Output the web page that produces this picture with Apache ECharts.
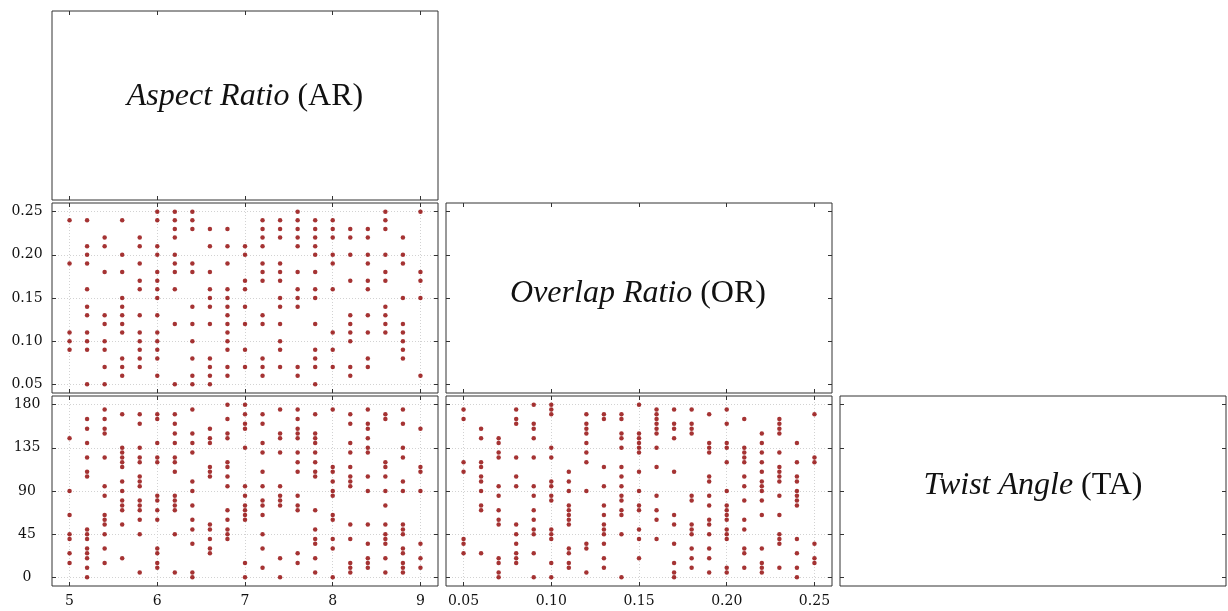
<!DOCTYPE html>
<html>
<head>
<meta charset="utf-8">
<style>
  html, body { margin: 0; padding: 0; background: #fff; }
  #chart { width: 1228px; height: 611px; }
</style>
<script src="https://cdn.jsdelivr.net/npm/echarts@6.0.0/dist/echarts.min.js"></script>
</head>
<body>
<div id="chart"></div>
<script>
// sampled design points, read column by column
const arLevels = [5.0, 5.2, 5.4, 5.6, 5.8, 6.0, 6.2, 6.4, 6.6, 6.8, 7.0, 7.2, 7.4, 7.6, 7.8, 8.0, 8.2, 8.4, 8.6, 8.8, 9.0];
const orLevels = [0.05, 0.06, 0.07, 0.08, 0.09, 0.10, 0.11, 0.12, 0.13, 0.14, 0.15, 0.16, 0.17, 0.18, 0.19, 0.20, 0.21, 0.22, 0.23, 0.24, 0.25];

// OR values at each AR level (AR vs OR panel)
const orAtAr = [
  [0.24, 0.19, 0.11, 0.10, 0.09],
  [0.24, 0.21, 0.20, 0.19, 0.16, 0.14, 0.13, 0.11, 0.10, 0.09, 0.05],
  [0.22, 0.21, 0.18, 0.13, 0.12, 0.10, 0.09, 0.07, 0.05],
  [0.24, 0.20, 0.18, 0.15, 0.14, 0.13, 0.12, 0.11, 0.08, 0.07, 0.06],
  [0.22, 0.21, 0.19, 0.17, 0.16, 0.13, 0.11, 0.10, 0.09, 0.08, 0.07],
  [0.25, 0.24, 0.21, 0.20, 0.18, 0.17, 0.16, 0.15, 0.13, 0.11, 0.10, 0.09, 0.08, 0.06],
  [0.25, 0.24, 0.23, 0.22, 0.20, 0.19, 0.18, 0.16, 0.12, 0.05],
  [0.25, 0.24, 0.23, 0.19, 0.18, 0.14, 0.12, 0.10, 0.08, 0.06, 0.05],
  [0.23, 0.21, 0.18, 0.16, 0.15, 0.14, 0.12, 0.08, 0.07, 0.06, 0.05],
  [0.23, 0.21, 0.19, 0.16, 0.15, 0.14, 0.13, 0.12, 0.11, 0.10, 0.09, 0.07, 0.06],
  [0.21, 0.20, 0.17, 0.16, 0.14, 0.12, 0.09, 0.07],
  [0.24, 0.23, 0.22, 0.21, 0.19, 0.18, 0.17, 0.13, 0.12, 0.08, 0.07, 0.06],
  [0.24, 0.23, 0.22, 0.19, 0.18, 0.17, 0.15, 0.14, 0.12, 0.10, 0.09, 0.07],
  [0.25, 0.24, 0.23, 0.22, 0.21, 0.18, 0.16, 0.15, 0.14, 0.07, 0.06],
  [0.24, 0.23, 0.22, 0.21, 0.20, 0.18, 0.16, 0.15, 0.12, 0.09, 0.08, 0.07, 0.05],
  [0.24, 0.23, 0.22, 0.20, 0.19, 0.16, 0.11, 0.09, 0.07],
  [0.23, 0.22, 0.20, 0.17, 0.13, 0.12, 0.11, 0.10, 0.07, 0.06],
  [0.23, 0.22, 0.20, 0.19, 0.17, 0.16, 0.13, 0.11, 0.08, 0.07],
  [0.25, 0.24, 0.23, 0.20, 0.18, 0.17, 0.14, 0.13, 0.12, 0.11],
  [0.22, 0.20, 0.19, 0.15, 0.12, 0.11, 0.10, 0.09, 0.08],
  [0.25, 0.18, 0.17, 0.15, 0.06]
];

// TA values at each AR level (AR vs TA panel)
const taAtAr = [
  [145, 90, 65, 45, 40, 25, 15],
  [165, 155, 140, 125, 110, 105, 50, 45, 40, 30, 25, 20, 10, 0],
  [175, 165, 155, 150, 125, 95, 85, 65, 60, 55, 45, 30, 15],
  [170, 135, 130, 125, 120, 115, 100, 90, 80, 75, 70, 55, 20],
  [170, 160, 135, 125, 120, 105, 100, 95, 80, 75, 70, 60, 45, 5],
  [170, 165, 140, 125, 120, 85, 80, 70, 60, 30, 25, 15, 10],
  [170, 160, 150, 140, 125, 120, 110, 85, 80, 75, 70, 45, 5],
  [175, 150, 140, 130, 100, 90, 75, 60, 50, 35, 5, 0],
  [155, 145, 140, 115, 110, 105, 55, 50, 40, 30, 25],
  [180, 165, 150, 145, 120, 115, 105, 95, 70, 60, 50, 45, 40],
  [180, 170, 160, 155, 135, 95, 85, 75, 70, 65, 60, 15, 0],
  [170, 160, 140, 130, 110, 95, 80, 75, 65, 45, 30, 10],
  [175, 150, 145, 130, 95, 85, 80, 75, 20, 0],
  [175, 165, 155, 150, 145, 130, 120, 110, 85, 75, 70, 25, 15],
  [170, 150, 145, 140, 130, 120, 110, 105, 70, 50, 40, 35, 20, 5],
  [175, 115, 110, 100, 90, 85, 65, 60, 40, 30, 0],
  [170, 160, 140, 130, 115, 105, 100, 95, 55, 40, 15, 10, 5],
  [175, 160, 155, 145, 135, 130, 105, 90, 55, 35, 20, 15, 10],
  [170, 165, 120, 115, 105, 90, 75, 55, 45, 40, 35, 20, 5],
  [175, 160, 135, 125, 100, 90, 55, 50, 45, 30, 25, 15, 10, 5],
  [155, 115, 110, 90, 35, 20, 10]
];

// TA values at each OR level (OR vs TA panel)
const taAtOr = [
  [175, 165, 120, 110, 40, 35, 25],
  [155, 145, 120, 115, 105, 100, 90, 75, 70, 25],
  [145, 140, 130, 125, 95, 85, 70, 60, 55, 20, 15, 5, 0],
  [175, 165, 160, 125, 105, 95, 55, 45, 35, 25, 20, 15],
  [180, 160, 155, 145, 125, 95, 85, 70, 60, 50, 45, 25, 0],
  [180, 175, 170, 135, 125, 100, 95, 85, 80, 50, 45, 40, 15, 0],
  [110, 100, 90, 75, 70, 65, 60, 55, 30, 25, 15, 10],
  [170, 160, 155, 150, 140, 130, 120, 90, 35, 30, 5],
  [170, 165, 115, 95, 75, 65, 55, 50, 45, 35, 20, 10],
  [170, 165, 150, 145, 135, 115, 105, 95, 85, 80, 70, 65, 45, 0],
  [180, 150, 145, 140, 135, 130, 110, 90, 75, 70, 50, 40, 20],
  [175, 170, 165, 160, 155, 150, 135, 115, 85, 70, 60, 40],
  [175, 160, 155, 145, 110, 65, 55, 35, 15, 5, 0],
  [175, 160, 155, 150, 85, 80, 55, 50, 45, 30, 20, 10],
  [170, 140, 135, 130, 105, 100, 85, 75, 60, 55, 45, 30, 20, 5],
  [175, 160, 140, 135, 120, 90, 75, 70, 65, 60, 50, 45, 40, 10, 5],
  [165, 135, 130, 125, 120, 105, 95, 80, 60, 50, 30, 25, 10],
  [150, 140, 130, 120, 110, 100, 95, 90, 80, 65, 30, 15, 10, 5],
  [165, 160, 155, 150, 130, 115, 110, 105, 100, 85, 65, 45, 40, 35, 10],
  [140, 120, 105, 100, 90, 85, 80, 75, 40, 25, 10, 0],
  [170, 125, 120, 35, 20, 15]
];

const arTicks = [5, 6, 7, 8, 9];
const orTicks = [0.05, 0.10, 0.15, 0.20, 0.25];
const taTicks = [0, 45, 90, 135, 180];

const tickFont = 'DejaVu Serif';
const labelFont = 'Liberation Serif';
const dotColor = '#8e0000';
const frameColor = '#333';

const vars = [
  { ticks: arTicks, min: 4.8, max: 9.2, fmt: v => String(v) },
  { ticks: orTicks, min: 0.04, max: 0.26, fmt: v => v.toFixed(2) },
  { ticks: taTicks, min: -9, max: 189, fmt: v => String(v) }
];

const cols = [{ left: 52, width: 386 }, { left: 446, width: 386 }, { left: 840, width: 386 }];
const rows = [{ top: 11, height: 189 }, { top: 203, height: 190 }, { top: 396, height: 190 }];

function pairs(levels, lists) {
  const out = [];
  levels.forEach((lv, i) => lists[i].forEach(v => out.push([lv, v])));
  return out;
}

const grids = [];
const xAxes = [];
const yAxes = [];
const series = [];

function axis(gi, v, pos, opts) {
  return {
    type: 'value',
    gridIndex: gi,
    position: pos,
    min: v.min,
    max: v.max,
    show: opts.show,
    axisLine: { show: false, onZero: false },
    axisTick: {
      show: true, inside: true, length: 4, customValues: v.ticks,
      lineStyle: { color: frameColor, width: 1 }
    },
    axisLabel: {
      show: !!opts.labels, customValues: v.ticks, formatter: v.fmt,
      fontFamily: tickFont, fontSize: 14, color: '#111',
      margin: opts.margin || 8, align: opts.align
    },
    splitLine: {
      show: !!opts.grid,
      lineStyle: { type: [1, 2], color: '#d2d2d2', width: 1 }
    }
  };
}

// lower triangle: [row, col]; diagonal cells carry the variable names
const cells = [[0, 0], [1, 0], [1, 1], [2, 0], [2, 1], [2, 2]];
cells.forEach(([r, c], gi) => {
  grids.push({
    left: cols[c].left, width: cols[c].width,
    top: rows[r].top, height: rows[r].height,
    show: true, borderColor: frameColor, borderWidth: 1,
    backgroundColor: 'transparent', containLabel: false
  });
  const diag = r === c;
  const hasX = c < 2;
  const hasY = r > 0;
  const xi = xAxes.length;
  xAxes.push(axis(gi, vars[c], 'bottom', { show: hasX, labels: r === 2, grid: !diag }));
  xAxes.push(axis(gi, vars[c], 'top', { show: hasX }));
  const yi = yAxes.length;
  yAxes.push(axis(gi, vars[r], 'left', { show: hasY, labels: c === 0, grid: !diag, margin: 25, align: 'center' }));
  yAxes.push(axis(gi, vars[r], 'right', { show: hasY }));
  if (!diag) {
    let data;
    if (r === 1) data = pairs(arLevels, orAtAr);
    else if (c === 0) data = pairs(arLevels, taAtAr);
    else data = pairs(orLevels, taAtOr);
    series.push({
      type: 'scatter', xAxisIndex: xi, yAxisIndex: yi,
      data: data, symbolSize: 4.5, silent: true,
      itemStyle: { color: dotColor }
    });
  }
});

function nameLabel(x, y, italic, plain) {
  return {
    type: 'text', x: x, y: y,
    style: {
      text: '{i|' + italic + '} {n|' + plain + '}',
      align: 'center', verticalAlign: 'middle',
      rich: {
        i: { fontFamily: labelFont, fontStyle: 'italic', fontSize: 32, fill: '#111' },
        n: { fontFamily: labelFont, fontSize: 32, fill: '#111' }
      },
      fontFamily: labelFont, fontSize: 32, fill: '#111'
    }
  };
}

const chart = echarts.init(document.getElementById('chart'));
chart.setOption({
  animation: false,
  backgroundColor: '#fff',
  grid: grids,
  xAxis: xAxes,
  yAxis: yAxes,
  series: series,
  graphic: [
    nameLabel(245, 97, 'Aspect Ratio', '(AR)'),
    nameLabel(638, 294, 'Overlap Ratio', '(OR)'),
    nameLabel(1033, 486, 'Twist Angle', '(TA)')
  ]
});
</script>
</body>
</html>
